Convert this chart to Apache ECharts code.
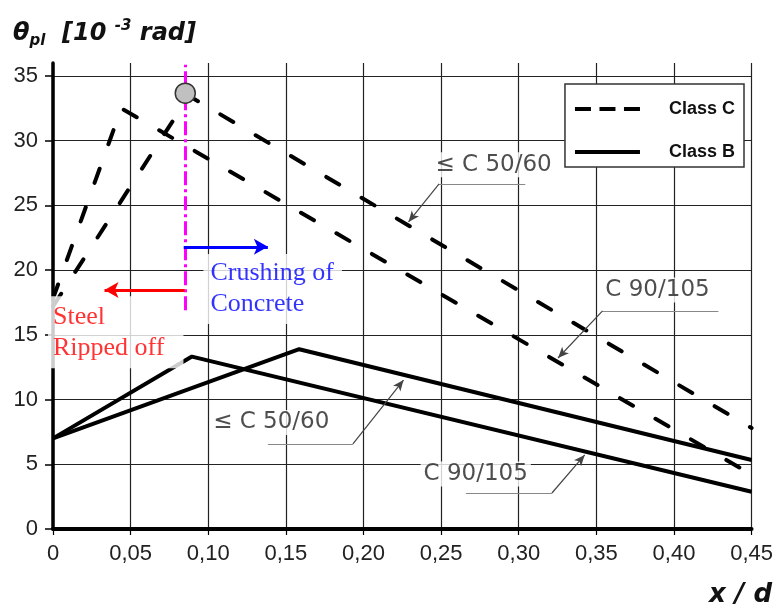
<!DOCTYPE html>
<html><head><meta charset="utf-8">
<script src="https://cdn.jsdelivr.net/npm/echarts@6/dist/echarts.min.js"></script>
<style>html,body{margin:0;padding:0;background:#fff}#c{width:776px;height:610px}</style>
</head><body><div id="c"></div>
<script>
// ---- data (x/d , theta_pl in 1e-3 rad) ----
const classC_le50 = [[0, 17.2], [0.0876, 33.46], [0.45, 7.8]];
const classC_c90 = [[0, 17.8], [0.044, 32.5], [0.45, 4.2]];
const classB_le50 = [[0, 7.0], [0.1586, 13.89], [0.45, 5.33]];
const classB_c90 = [[0, 7.0], [0.0895, 13.32], [0.45, 2.88]];
const transitionPoint = [[0.0852, 33.67]];
const xTicks = [0, 0.05, 0.10, 0.15, 0.20, 0.25, 0.30, 0.35, 0.40, 0.45];
const xTickLabels = ['0', '0,05', '0,10', '0,15', '0,20', '0,25', '0,30', '0,35', '0,40', '0,45'];
const yTicks = [0, 5, 10, 15, 20, 25, 30, 35];
const yTickLabels = ['0', '5', '10', '15', '20', '25', '30', '35'];
// annotation anchors (data space)
const limitLine = [[0.085, 16.9], [0.085, 35.86]];
const crushArrow = [[0.0842, 21.8], [0.1384, 21.8]];
const steelArrow = [[0.0848, 18.47], [0.0332, 18.47]];
const leaderC50top = [[0.3042, 26.66], [0.2487, 26.66], [0.229, 23.72]];
const leaderC90top = [[0.4286, 16.85], [0.354, 16.85], [0.3253, 13.21]];
const leaderC50bot = [[0.1384, 6.57], [0.1932, 6.57], [0.2258, 11.51]];
const leaderC90bot = [[0.266, 2.78], [0.3214, 2.78], [0.3425, 5.72]];
const labelC50top = [0.2838, 28.13];
const labelC90top = [0.3894, 18.47];
const labelC50bot = [0.1406, 8.23];
const labelC90bot = [0.2723, 4.25];
const labelCrush = [0.0969, 18.55];
const labelSteel = [0, 15.19];

const chart = echarts.init(document.getElementById('c'), null, {renderer: 'canvas'});
const dashed = {color: '#000', width: 4, type: [15, 26], cap: 'round'};
const solid = {color: '#000', width: 4};
function leader(pts) {
  return [
    [{coord: pts[0], symbol: 'none', lineStyle: {color: '#888', width: 1.2, type: 'solid'}}, {coord: pts[1], symbol: 'none'}],
    [{coord: pts[1], symbol: 'none', lineStyle: {color: '#444', width: 1.2, type: 'solid'}}, {coord: pts[2], symbol: 'arrow', symbolSize: [7, 11]}]
  ];
}
const annFont = {fontFamily: 'DejaVu Sans', fontSize: 23, color: '#222', backgroundColor: '#fff', padding: [1, 3]};
function textPoint(coord, text, extra) {
  return {value: coord, label: Object.assign({show: true, formatter: text, position: [0, 0], align: 'center', verticalAlign: 'middle'}, annFont, extra || {})};
}

chart.setOption({
  animation: false,
  backgroundColor: '#fff',
  title: {
    left: 8, top: 14,
    text: '{a|θ}{b|pl}{a|  [10 }{c|-3}{a| rad]}',
    textStyle: {
      rich: {
        a: {fontFamily: 'DejaVu Sans', fontWeight: 'bold', fontStyle: 'italic', fontSize: 24, color: '#111', lineHeight: 30},
        b: {fontFamily: 'DejaVu Sans', fontWeight: 'bold', fontStyle: 'italic', fontSize: 15, color: '#111', verticalAlign: 'bottom', lineHeight: 30},
        c: {fontFamily: 'DejaVu Sans', fontWeight: 'bold', fontStyle: 'italic', fontSize: 15, color: '#111', verticalAlign: 'top', lineHeight: 30}
      }
    }
  },
  graphic: [{
    type: 'text', right: 4, bottom: 2,
    style: {text: 'x / d', font: 'italic bold 26px "DejaVu Sans"', fill: '#111'}
  }],
  legend: {
    orient: 'vertical', right: 32, top: 84,
    backgroundColor: '#fff', borderColor: '#333', borderWidth: 1.5, borderRadius: 0,
    padding: [16, 9, 6, 10],
    itemWidth: 65, itemHeight: 4, itemGap: 25,
    textStyle: {fontFamily: 'Liberation Sans', fontWeight: 'bold', fontSize: 18, color: '#111', padding: [0, 0, 0, 24]},
    data: [
      {name: 'Class C', icon: 'path://M0,0h16v4h-16z M24.5,0h16v4h-16z M49,0h16v4h-16z', itemStyle: {color: '#000', borderWidth: 0}},
      {name: 'Class B', icon: 'rect', itemStyle: {color: '#000', borderWidth: 0}}
    ]
  },
  grid: {left: 53, right: 18, top: 63, bottom: 81, containLabel: false},
  xAxis: {
    type: 'value', min: 0, max: 0.45, interval: 0.05,
    axisLine: {show: true, onZero: false, lineStyle: {color: '#000', width: 4}},
    axisTick: {show: true, length: 6, lineStyle: {color: '#000', width: 1.2}},
    axisLabel: {margin: 14, fontFamily: 'Liberation Sans', fontSize: 22, color: '#222',
      formatter: v => { const i = xTicks.findIndex(t => Math.abs(t - v) < 1e-9); return i >= 0 ? xTickLabels[i] : ''; }},
    splitLine: {show: true, lineStyle: {color: '#222', width: 1.2}}
  },
  yAxis: {
    type: 'value', min: 0, max: 36,
    axisLine: {show: true, onZero: false, lineStyle: {color: '#000', width: 3.5}},
    axisTick: {show: true, length: 8, customValues: yTicks, lineStyle: {color: '#000', width: 1.5}},
    axisLabel: {margin: 15, customValues: yTicks, fontFamily: 'Liberation Sans', fontSize: 22, color: '#222',
      formatter: v => { const i = yTicks.indexOf(v); return i >= 0 ? yTickLabels[i] : ''; }},
    splitLine: {show: true, lineStyle: {color: '#222', width: 1.2}}
  },
  series: [
    {name: 'Class C', type: 'line', data: classC_le50, symbol: 'none', lineStyle: dashed, itemStyle: {color: '#000'}, z: 3},
    {name: 'Class C', type: 'line', data: classC_c90, symbol: 'none', lineStyle: dashed, itemStyle: {color: '#000'}, z: 3},
    {name: 'Class B', type: 'line', data: classB_le50, symbol: 'none', lineStyle: solid, itemStyle: {color: '#000'}, z: 3},
    {name: 'Class B', type: 'line', data: classB_c90, symbol: 'none', lineStyle: solid, itemStyle: {color: '#000'}, z: 3},
    {
      name: 'annot', type: 'scatter', symbolSize: 0, z: 4, silent: true, clip: false,
      data: [
        textPoint(labelC50top, '≤ C 50/60'),
        textPoint(labelC90top, 'C 90/105'),
        textPoint(labelC50bot, '≤ C 50/60'),
        textPoint(labelC90bot, 'C 90/105'),
        textPoint(labelCrush, 'Crushing of\nConcrete', {align: 'left', fontFamily: 'Liberation Serif', fontSize: 26, lineHeight: 31, color: '#0000ff', padding: [4, 8, 4, 7]}),
        textPoint(labelSteel, 'Steel\nRipped off', {align: 'left', fontFamily: 'Liberation Serif', fontSize: 26, lineHeight: 31, color: '#ff0000', padding: [5, 19, 5, 5], offset: [-5, 0]})
      ],
      markLine: {
        silent: true, animation: false, label: {show: false}, symbol: 'none',
        data: [
          [{coord: limitLine[0], symbol: 'none', lineStyle: {color: '#ff00ff', width: 3, type: [14, 4, 3, 4]}}, {coord: limitLine[1], symbol: 'none'}],
          [{coord: crushArrow[0], symbol: 'none', lineStyle: {color: '#0000ff', width: 3, type: 'solid'}}, {coord: crushArrow[1], symbol: 'arrow', symbolSize: [12, 14]}],
          [{coord: steelArrow[0], symbol: 'none', lineStyle: {color: '#ff0000', width: 3, type: 'solid'}}, {coord: steelArrow[1], symbol: 'arrow', symbolSize: [12, 14]}]
        ].concat(leader(leaderC50top), leader(leaderC90top), leader(leaderC50bot), leader(leaderC90bot))
      }
    },
    {
      name: 'transition', type: 'scatter', data: transitionPoint, symbol: 'circle', symbolSize: 20, z: 6, silent: true,
      itemStyle: {color: '#c0c0c0', borderColor: '#333', borderWidth: 1.5, opacity: 1}
    }
  ]
});
</script></body></html>
